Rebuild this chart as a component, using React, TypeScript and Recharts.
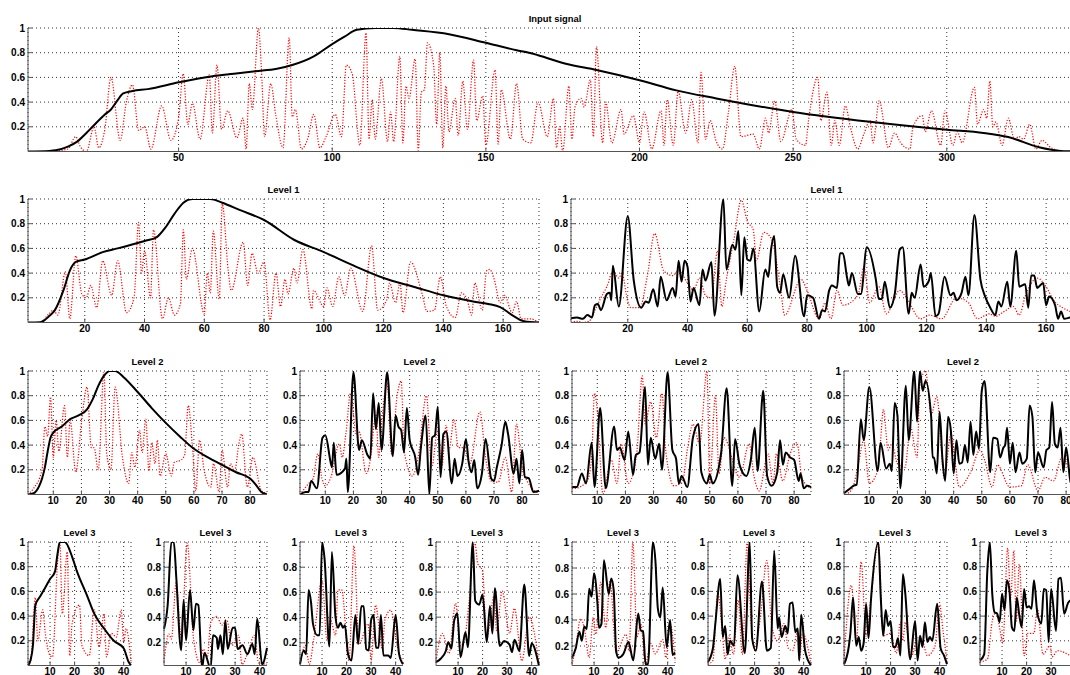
import { LineChart, Line, XAxis, YAxis, CartesianGrid } from "recharts";

type Pt = [number, number];

// each series is [sample, value] at its corners
const inputBlack: Pt[] = [[1,0],[8,.005],[10,.01],[14,.04],[17,.08],[20,.15],[22,.2],[26,.3],[28,.34],[30,.41],[32,.47],[35,.49],[40,.505],[50,.56],[61,.61],[68,.63],[75,.65],[82,.67],[87,.7],[94,.77],[100,.87],[104,.93],[108,.985],[114,1],[120,1],[126,.985],[138,.95],[150,.88],[160,.82],[164,.8],[167,.78],[176,.71],[186,.66],[200,.577],[212,.495],[225,.43],[250,.32],[275,.24],[300,.176],[312,.15],[320,.117],[330,.035],[338,.003],[344,0]];
const inputRed: Pt[] = [[1,0],[8,0],[14,.02],[16.5,.12],[18,.04],[20,0],[22.5,.2],[24,.03],[26,.18],[28,.6],[31,.09],[33,.4],[35,.54],[37,.17],[39,.2],[41,.02],[44.5,.37],[47.5,.09],[50,.27],[51.5,.63],[53,.22],[54.5,.39],[57,.1],[60,.62],[61,.15],[62.5,.7],[64,.18],[66,.33],[69,.11],[71,.27],[72,.02],[73,.55],[74,.34],[76,1],[77,.65],[78,.12],[80,.55],[81.6,.3],[84,.03],[86,.92],[87,.28],[88,.34],[90,.02],[92,.1],[94,.3],[96,.03],[98,.12],[101,.3],[103,.12],[104.6,.7],[106.5,.63],[109,.05],[111,.96],[112,.1],[113,.42],[114,.1],[116,.59],[118,.08],[119,.32],[120,.08],[122,.77],[123,.07],[124,.53],[125,.43],[127,.75],[128,.01],[129,.48],[130,.5],[131,.88],[133,.7],[134,.22],[135,.8],[136,.03],[137,.53],[138,.16],[140,.43],[141,.13],[142.5,.57],[144,.18],[146,.74],[147,.25],[149,.45],[150,.05],[153,.66],[154,.06],[155,.5],[158,.1],[160,.55],[162,.1],[164.6,.07],[167,.4],[170,.12],[172,.43],[173,.03],[174,.2],[175,0],[177,.53],[178,.1],[179,.36],[181,.43],[182,.36],[184,.58],[185,.12],[186,.85],[188,.07],[189,.4],[191,.07],[194,.34],[195,.14],[198,.29],[200,.07],[201.5,.32],[204,.02],[207,.33],[208,.05],[209,.42],[211,.05],[212.6,.49],[215,.15],[217,.42],[219,.07],[220,.64],[221.5,.1],[223,.25],[225,.08],[227,.02],[229,.33],[231,.69],[233,.12],[237,.14],[239,.02],[241,.27],[242,.15],[244,.41],[246,.08],[249.6,.34],[251,.1],[254,.05],[255,.25],[258,.6],[259,.25],[261,.48],[262.4,.05],[263.6,.25],[265,.05],[267,.37],[268.6,.2],[271,.02],[273,.14],[275,.25],[276,.07],[278,.41],[281,.03],[283,.15],[285,.07],[288,.02],[289,.2],[292,.29],[293,.16],[295,.33],[298,.05],[299.4,.33],[302,.05],[303.4,.16],[305,.07],[309,.52],[310,.22],[312,.34],[313,.27],[314,.57],[315,.2],[316,.24],[318,.05],[320,.27],[322,.1],[323.5,.12],[325,.1],[327,.22],[329,.02],[331,.09],[334,.03],[336,.01],[339,0],[344,0]];

const level1aBlack: Pt[] = [[1,0],[5,.002],[6,.01],[8,.05],[10,.1],[13,.27],[15,.42],[17,.49],[20,.51],[26,.57],[31,.6],[40,.66],[44,.69],[47,.77],[50,.88],[53,.97],[56,1],[62,1],[66,.97],[72,.91],[80,.83],[90,.67],[100,.57],[110,.46],[120,.36],[130,.29],[140,.22],[150,.17],[155,.15],[159,.125],[163,.06],[167,.01],[172,0]];
const level1aRed: Pt[] = [[1,0],[5,0],[8,.07],[9.5,.1],[11,.06],[13.5,.41],[15,.03],[17,.54],[19,.23],[20.5,.2],[22,.3],[24,.12],[26,.5],[29,.22],[31,.5],[34,.08],[36.5,.2],[38,.81],[39,.4],[40,.58],[42,.2],[43,.75],[46,.03],[48,.2],[50,.06],[52,.15],[53,.75],[54,.35],[56,.6],[60,.07],[61,.4],[62,.24],[63,.74],[65,.19],[66,.96],[68,.42],[69,.26],[73,.65],[74.5,.3],[76,.56],[78,.4],[80,.49],[82,.02],[84,.4],[85.5,.13],[87,.35],[88,.23],[90,.44],[91,.32],[93,.59],[96,.11],[96.5,.26],[100,.13],[101,.28],[103,.13],[105,.37],[107,.22],[109,.44],[113,.09],[116,.62],[118,.1],[121,.18],[122,.32],[124,.16],[125.5,.32],[126.5,.08],[129,.49],[133,.22],[134.5,.09],[137,.1],[139,.37],[141,.13],[144,.04],[146,.24],[148,.18],[149.5,.06],[150.5,.32],[153,.1],[154.5,.42],[155.5,.43],[157,.35],[159,.16],[160.5,.22],[163,.08],[164.5,.17],[166,.03],[169,.03],[172,0]];
const level1bBlack: Pt[] = [[1,.035],[3,.04],[5,.03],[6.5,.06],[8,.04],[9,.14],[10,.15],[11,.1],[13,.23],[14,.24],[14.5,.18],[15,.46],[17,.13],[20,.86],[22,.34],[24.5,.12],[26,.17],[27,.16],[28.5,.27],[30,.13],[31,.37],[33,.18],[35,.28],[36,.21],[37,.5],[38,.33],[39,.5],[40,.45],[41,.17],[42,.28],[44,.14],[45,.43],[46,.34],[48,.49],[49,.055],[52,1],[53,.43],[55,.63],[56,.59],[57,.74],[58,.22],[59,.69],[60,.51],[61,.5],[62,.6],[64,.09],[66,.43],[67,.37],[68,.6],[69,.7],[70,.29],[71,.24],[72,.39],[74,.2],[76,.54],[79,.05],[80,.22],[82,.2],[84,.03],[85,.1],[86,.09],[87.4,.26],[88.3,.3],[90,.28],[91,.56],[92,.56],[93.4,.36],[94,.3],[95,.4],[97,.23],[98,.23],[100,.61],[103,.35],[104,.19],[105,.19],[106,.33],[107.7,.12],[109.4,.24],[111,.59],[112,.61],[114,.07],[115,.24],[116,.2],[118,.47],[119,.29],[120.8,.34],[121.4,.4],[123,.05],[124,.07],[126,.37],[128,.22],[129,.24],[130,.18],[131.7,.24],[133,.37],[134,.22],[136,.87],[138,.35],[139.6,.21],[141.3,.12],[143,.06],[144,.17],[145,.13],[147,.33],[148,.13],[150,.58],[151,.29],[153,.31],[154,.12],[155,.38],[156,.38],[157,.28],[159,.32],[160,.14],[161,.21],[163,.14],[164,.03],[165,.09],[166,.03],[168,.04],[172,.05]];
const level1bRed: Pt[] = [[1,0],[3,.01],[5,0],[7,.01],[9,.1],[11,.2],[13,.29],[15,.41],[17,.36],[18,.4],[20,.17],[21,.12],[24,.12],[26.5,.37],[29,.72],[32,.42],[35,.38],[37,.42],[40,.32],[42,.26],[44,.36],[46,.22],[48,.2],[50,.58],[51.5,.13],[53,.35],[55.5,.67],[58,.99],[60,.82],[62,.75],[63,.5],[65.5,.73],[68,.68],[71,.3],[72.5,.06],[78,.35],[80,.26],[84,.03],[86,.16],[88,.03],[90,.26],[92,.14],[97,.22],[99,.45],[101,.16],[104,.29],[106.5,.07],[111,.26],[113,.21],[118,.03],[121,.06],[125,.03],[130,.2],[134,.16],[137,.03],[141,.07],[143,.05],[146,.09],[149,.13],[151,.06],[153,.21],[157,.36],[160,.29],[162.5,.18],[165.5,.12],[168,.09],[172,.05]];

const level2aBlack: Pt[] = [[1,0],[3,.01],[5,.07],[6,.13],[7,.22],[8,.35],[9,.46],[10,.5],[13,.55],[16,.61],[19,.64],[22,.69],[24,.77],[26,.88],[28,.96],[30,1],[32,1],[35,.95],[40,.83],[45,.7],[50,.58],[55,.47],[60,.37],[65,.3],[70,.24],[75,.18],[80,.13],[82,.08],[84,.02],[86,0]];
const level2aRed: Pt[] = [[1,0],[3,.05],[6,.2],[7,.55],[8,.47],[9,.79],[10,.3],[11,.6],[12,.35],[14,.72],[15,.3],[16,.6],[18,.18],[20,.58],[22,.87],[23.5,.38],[24.5,.38],[26,.2],[28,.99],[29,.33],[30.5,.2],[32,.87],[34.6,.3],[36.8,.09],[37.9,.34],[39,.22],[40.7,.52],[41.6,.34],[42.9,.61],[44,.19],[45,.42],[46.2,.25],[47,.44],[48,.15],[50,.33],[52,.15],[53,.26],[55.5,.28],[56.7,.32],[58,.72],[59.5,.38],[60.7,.03],[62,.44],[63.7,.19],[66,.06],[67,.25],[69,.02],[70,.36],[72,.06],[73,.25],[74.5,.19],[76,.41],[77,.49],[79,.06],[81,.3],[84,.03],[86,.01]];
const level2bBlack: Pt[] = [[1,0],[3,.02],[4,.02],[5,.11],[7,.05],[9,.46],[10,.48],[12,.25],[12.4,.22],[13,.42],[14,.16],[17,.21],[17.5,.29],[18,.02],[20,.99],[22,.36],[23,.44],[25,.32],[26,.29],[27,.82],[28,.53],[29,.74],[30,.36],[32,.99],[34,.31],[35,.64],[36,.55],[37,.52],[38,.34],[39,.7],[40,.44],[42,.3],[43,.16],[44,.38],[45.7,.64],[47,0],[48,.46],[49,.48],[50,.71],[51,.14],[52,.49],[53,.51],[55,.09],[56,.29],[57,.15],[58.7,.25],[60,.45],[61,.26],[62,.18],[63,.28],[64,.05],[65.7,.17],[67,.45],[69,.13],[70,.11],[71,.22],[72.7,.4],[74,.59],[75,.49],[77,.17],[78,.29],[79,.09],[80,.36],[81,.14],[82.4,.13],[84,.02],[86,.03]];
const level2bRed: Pt[] = [[1,0],[2.7,.05],[4.5,.1],[5.7,.13],[7.3,.33],[8.8,.13],[10,.07],[12,.14],[15,.41],[16,.3],[17.3,.49],[19,.82],[21,.49],[22,.51],[24.6,.17],[26,.28],[28,.65],[29,.3],[30,.57],[32,.9],[33.5,.33],[35.6,.81],[37,.92],[38,.36],[41,.15],[43,.3],[46,.8],[47.8,.22],[50,.52],[51.4,.22],[53,.56],[54,.36],[55.8,.61],[57.3,.38],[59.3,.38],[61.4,.25],[65,.67],[67,.3],[69,.11],[71.5,.1],[74,.3],[76.3,.02],[78,.57],[80,.22],[82,.1],[86,.01]];
const level2cBlack: Pt[] = [[1,.06],[2.7,.06],[4.5,.17],[6,.09],[8,.42],[9,.06],[11,.7],[13,.05],[16,.55],[17,.36],[18,.38],[19.7,.28],[21,.51],[22.7,.16],[23.7,.32],[25,.34],[27,.87],[28,.24],[29,.46],[30.6,.29],[32,.41],[33,.2],[35,.99],[36.7,.36],[38,.29],[39,.09],[40,.15],[42,.06],[44,.46],[46,.57],[47,.18],[49,.09],[50,.16],[51,.09],[54,.33],[56,.86],[58,.07],[59,.45],[60.6,.24],[63,.15],[64.6,.28],[66,.54],[67,.19],[69,.84],[70.4,.15],[72,.07],[74,.18],[75,.44],[76,.24],[77,.34],[78.6,.3],[80,.28],[81.6,.11],[82.3,.17],[83.4,.05],[84.6,.07],[86,.06]];
const level2cRed: Pt[] = [[1,.05],[2,.05],[6.4,.11],[8,.3],[9,.82],[10,.68],[12,.005],[15,.28],[17,.09],[18.5,.41],[21,.09],[24,.33],[26,.96],[27,.57],[29,.75],[31,.46],[33,.82],[34.3,.36],[37.3,.07],[40.3,.11],[42,.36],[44,.57],[46.4,.41],[49,1],[50,.09],[52,.8],[53.3,.17],[55,.46],[60.6,.14],[64,.41],[65.8,.14],[67.6,.03],[70.7,.33],[72.5,.09],[73.7,.33],[76,.11],[78.6,.33],[81,.42],[82.8,.13],[86,.05]];
const level2dBlack: Pt[] = [[1,.01],[2.7,.04],[4.3,.07],[5.5,.08],[7,.61],[8,.44],[10,.87],[13,.19],[14,.42],[16,.21],[17.3,.25],[18,.19],[19,.74],[20,.64],[21,.05],[23,.88],[24,.44],[26,1],[27,.59],[28,1],[29,.84],[30,.92],[32,.63],[32.5,.3],[33,.3],[34,.17],[35,.67],[36,.29],[37,.11],[38,.63],[39,.52],[40,.17],[41,.44],[42,.25],[43,.26],[44,.4],[45,.26],[46,.59],[47,.32],[48,.51],[49,.37],[50,.84],[51,.92],[53,.18],[54,.46],[55.5,.45],[56.5,.3],[57.7,.38],[58.3,.4],[59,.54],[60,.25],[61,.42],[62,.18],[63.4,.34],[64.4,.25],[66,.29],[67,.72],[68,.63],[69,.18],[70,.34],[72,.22],[73,.36],[74,.38],[75,.75],[76,.41],[77,.38],[78,.54],[79,.18],[80,.38],[81.6,.1],[84,.05]];
const level2dRed: Pt[] = [[1.5,0],[4,.05],[6.4,.28],[8,.44],[10,.09],[12.6,.17],[14,.44],[15,.69],[16.7,.36],[18,.41],[20,.25],[22.7,.22],[24.6,.55],[27,.3],[28,.9],[30,1],[32,.65],[34,.79],[36.7,.13],[39,.49],[42,.06],[46,.18],[49.4,.36],[51,.28],[53.7,.06],[55.5,.24],[60,.06],[64,.07],[66.4,.24],[70,.03],[72.5,.14],[75.5,.11],[78.5,.3],[82,.14]];

const level3aBlack: Pt[] = [[1,0],[2,.04],[3,.16],[4,.49],[6,.56],[8,.63],[10,.7],[12,.76],[13,.9],[14,1],[16,1],[19,.88],[21,.76],[25,.57],[28,.42],[32,.3],[36,.2],[40,.14],[42,.03],[43,0]];
const level3aRed: Pt[] = [[1,.03],[2,.04],[4,.55],[5,.2],[7,.45],[8,.27],[10,.08],[11,.07],[13,.82],[14,1],[15,.42],[17,.92],[18,.08],[19,.34],[22,.49],[23,.16],[26,.08],[28,.45],[30,.15],[32,.42],[33,.07],[35,.26],[37,.23],[39,.45],[40,.19],[41,.3],[43,.03]];
const level3bBlack: Pt[] = [[1,.31],[2.5,.5],[4,1],[5,1],[6,.72],[8,.14],[9,.54],[10,.22],[11.6,.62],[13,.3],[14,.51],[15,.5],[16.5,0],[17.5,.12],[20,0],[21,.26],[22.5,.24],[23,.15],[24,.26],[25,.11],[26,.38],[27,.15],[29,.32],[30,.32],[31,.15],[33,.18],[35,.11],[37,.19],[38,.11],[39,.39],[41,.03],[43,.16]];
const level3bRed: Pt[] = [[1,.05],[3,.27],[4,.23],[6,.68],[8,.24],[10.5,.99],[13,.24],[15.7,.04],[17,.15],[18.7,.09],[20,.36],[22.5,.41],[24.6,.34],[26.6,.38],[28.7,.18],[31.4,.26],[32.8,.03],[35.5,.14],[37.8,.26],[39.6,.04],[43,.03]];
const level3cBlack: Pt[] = [[1,.03],[2.5,.14],[3.5,.11],[4.5,.62],[5.5,.52],[6.3,.35],[8,.26],[9,.26],[10,1],[11,.87],[13,.17],[14,.92],[15.5,.4],[16.5,.32],[17.5,.36],[18.5,.32],[19.3,.34],[20.6,.11],[22,.06],[23.6,.42],[24.7,.19],[26,.49],[27,.49],[28,.15],[29,.14],[30,.38],[31,.42],[32,.16],[33,.16],[34,.42],[35,.1],[37,.1],[38,.08],[40,.42],[41.4,.11],[43,.03]];
const level3cRed: Pt[] = [[1,.03],[3.2,.18],[4.8,.03],[6.6,.23],[10,.7],[12,.22],[13.4,.38],[15.5,.26],[16.5,.62],[18,.62],[21,.06],[23,.97],[25,.19],[28.8,.35],[30,.06],[31.8,.5],[34.6,.15],[35.6,.38],[38,.46],[40.7,.17],[43,.03]];
const level3dBlack: Pt[] = [[1,.04],[3,.07],[5,.13],[6,.2],[7.3,.15],[8.4,.37],[9.7,.43],[11,.08],[13,.28],[14,.16],[16,1],[17,.53],[18.6,.5],[20,.58],[21.7,.2],[23,.49],[24,.27],[25,.63],[27,.17],[28.8,.21],[31,.18],[32,.12],[33,.22],[35,.13],[37,.66],[39,.09],[40,.19],[43,.01]];
const level3dRed: Pt[] = [[1,.05],[3.6,.27],[6.3,.11],[9,.51],[11,.17],[13,.27],[14.5,.53],[16.8,1],[18,.83],[20,.77],[21.6,.23],[24.7,.57],[25.7,.29],[28,.61],[31,.27],[33,.47],[36,.05],[39,.4],[43,.03]];
const level3eBlack: Pt[] = [[1,.11],[2.5,.18],[4,.31],[5,.24],[6,.35],[7,.33],[8,.64],[9,.58],[10,.76],[11.4,.52],[12,.34],[13,.37],[14,.86],[16,.6],[17,.72],[18,.63],[19,.16],[20,.11],[22,.14],[24,.23],[26,.09],[28,.45],[29,.32],[30,.31],[31,.06],[32,.06],[34,1],[35,.86],[36,.49],[37,.42],[38,.65],[39.6,.19],[41,.4],[42,.13],[43,.15]];
const level3eRed: Pt[] = [[1,.06],[2.5,.19],[4.5,.41],[6,.34],[8,.11],[9.7,.42],[10.7,.29],[12.7,.69],[14.8,.34],[16.5,.7],[19,.15],[23,.29],[24.3,.16],[25.8,1],[27.5,.27],[29,.37],[31,.06],[33,.22],[35,.14],[38,.25],[39.3,.11],[41,.37],[43,.09]];
const level3fBlack: Pt[] = [[1,.03],[3,.14],[4,.34],[6,.7],[7,.23],[8,.32],[9,.09],[10,.2],[11.6,.16],[13,.73],[16,.1],[18,1],[19,.22],[20.5,.12],[23,.68],[25,.12],[26.6,.14],[28,.93],[29.4,.3],[30,.39],[31,.23],[32.5,.32],[33.5,.26],[34.4,.5],[35.5,.51],[36.6,.27],[37.6,.3],[38.2,.04],[39,.41],[40.6,.12],[43,0]];
const level3fRed: Pt[] = [[1,.01],[3,.04],[5,.59],[7,.23],[8,.05],[9.6,.24],[11.4,.09],[13.3,.53],[15,.09],[17,1],[18.5,.36],[20,.15],[22.3,.38],[25,.85],[27,.32],[29.4,.2],[32,.34],[33.7,.14],[35.5,.12],[37.6,.28],[38.2,.04],[39.6,.26],[43,.01]];
const level3gBlack: Pt[] = [[1,.01],[3,.16],[3.6,.26],[4.7,.55],[6,.16],[7,.23],[8,.12],[9,.18],[10,.5],[11,.22],[12,.53],[15,1],[16,.55],[17,.24],[18,.45],[19,.32],[20,.36],[21,.15],[22,.15],[23,.22],[24,.08],[25,.74],[26,.58],[28,.05],[30,.36],[31,.04],[32,.24],[33,.15],[34,.35],[35,.19],[36,.23],[37,.2],[39,.5],[40.4,.14],[41.8,.08],[43,.01]];
const level3gRed: Pt[] = [[1,.03],[4,.65],[6,.18],[8,.84],[10,.24],[12.3,.61],[15,.99],[17,.24],[20,.26],[22.3,.1],[24,.35],[25,.2],[26,.35],[28.4,.07],[31,.23],[33,.2],[35,.08],[38,.15],[40,.49],[41.4,.28],[43,.03]];
const level3hBlack: Pt[] = [[1,.04],[2.7,.09],[4,.77],[5,1],[6,.58],[7,.43],[8,.42],[9,.35],[10,.58],[11,.45],[12,.69],[13,.61],[14,.31],[15,.28],[16,.55],[17,.41],[18,.31],[19,.62],[20,.47],[21,.48],[22,.46],[23,.69],[24.4,.42],[26,.34],[27,.62],[28,.61],[29,.19],[30,.62],[32,.28],[33,.7],[34,.71],[35.3,.42],[37,.51],[38.4,.53],[40,.52]];
const level3hRed: Pt[] = [[1,.03],[4,.05],[6,.36],[7.5,.43],[9.6,.24],[10.3,.18],[12.3,.95],[13.5,.55],[14.8,.93],[15.8,.36],[17,.82],[19,.08],[20.5,.26],[23,.26],[24.4,.46],[26.7,.09],[29.5,.16],[30.4,.07],[32.6,.12],[38.4,.07]];

const ticksY = [0.2, 0.4, 0.6, 0.8, 1];
const ticks344 = [50, 100, 150, 200, 250, 300];
const ticks172 = [20, 40, 60, 80, 100, 120, 140, 160];
const ticks86 = [10, 20, 30, 40, 50, 60, 70, 80];
const ticks43 = [10, 20, 30, 40];

const FONT = "'Liberation Sans', Arial, sans-serif";

function Panel({ title, left, top, width, last, ticks, black, red, yMin = 0 }: {
  title: string; left: number; top: number; width: number; last: number;
  ticks: number[]; black: Pt[]; red: Pt[]; yMin?: number;
}) {
  const height = 123.5;
  const blackData = black.map(([x, y]) => ({ x, y }));
  const redData = red.map(([x, y]) => ({ x, y }));
  return (
    <div style={{ position: "absolute", left: left - 28, top: top - 22 }}>
      <div style={{ position: "absolute", left: 28, width, top: 7, textAlign: "center", font: `bold 9.4px ${FONT}`, color: "#000" }}>
        {title}
      </div>
      <LineChart width={width + 30} height={height + 42} margin={{ top: 22, right: 2, bottom: 0, left: 0 }}>
        <CartesianGrid stroke="#333" strokeDasharray="1 3" />
        <XAxis
          dataKey="x" type="number" domain={[1, last]} ticks={ticks} height={20} interval={0}
          tickSize={-4} tickMargin={6} stroke="#555"
          tick={{ fill: "#000", fontSize: 10, fontWeight: "bold", fontFamily: FONT }}
        />
        <XAxis xAxisId="top" orientation="top" type="number" domain={[1, last]} ticks={ticks} height={0}
          tickSize={-4} tickFormatter={() => ""} stroke="#555" />
        <YAxis
          type="number" domain={[yMin, 1]} ticks={ticksY} width={28} interval={0}
          tickSize={-4} tickMargin={7} stroke="#555" allowDataOverflow
          tick={{ fill: "#000", fontSize: 10, fontWeight: "bold", fontFamily: FONT }}
        />
        <YAxis yAxisId="right" orientation="right" type="number" domain={[yMin, 1]} ticks={ticksY} width={0}
          tickSize={-4} tickFormatter={() => ""} stroke="#555" />
        <Line data={redData} dataKey="y" type="monotone" stroke="#f00" strokeWidth={1.2} strokeDasharray="1.2 1.6" dot={false} isAnimationActive={false} />
        <Line data={blackData} dataKey="y" type="monotone" stroke="#000" strokeWidth={2} dot={false} isAnimationActive={false} />
      </LineChart>
    </div>
  );
}

const row2 = { top: 199, width: 511, last: 172, ticks: ticks172 };
const row3 = { top: 370.7, width: 239, last: 86, ticks: ticks86 };
const row4 = { top: 541.7, width: 103, last: 43, ticks: ticks43 };

export default function App() {
  return (
    <div style={{ position: "fixed", left: 0, top: 0, width: 1070, height: 675, overflow: "hidden", background: "#fff" }}>
      <Panel title="Input signal" left={28} top={28} width={1054} last={344} ticks={ticks344} black={inputBlack} red={inputRed} />
      <Panel title="Level 1" left={28} {...row2} black={level1aBlack} red={level1aRed} />
      <Panel title="Level 1" left={571} {...row2} black={level1bBlack} red={level1bRed} />
      <Panel title="Level 2" left={28} {...row3} black={level2aBlack} red={level2aRed} />
      <Panel title="Level 2" left={300} {...row3} black={level2bBlack} red={level2bRed} />
      <Panel title="Level 2" left={571.5} {...row3} black={level2cBlack} red={level2cRed} />
      <Panel title="Level 2" left={843.5} {...row3} black={level2dBlack} red={level2dRed} />
      <Panel title="Level 3" left={28} {...row4} black={level3aBlack} red={level3aRed} />
      <Panel title="Level 3" left={164} {...row4} black={level3bBlack} red={level3bRed} yMin={0.02} />
      <Panel title="Level 3" left={299.5} {...row4} black={level3cBlack} red={level3cRed} yMin={0.02} />
      <Panel title="Level 3" left={435.5} {...row4} black={level3dBlack} red={level3dRed} yMin={0.014} />
      <Panel title="Level 3" left={571.5} {...row4} black={level3eBlack} red={level3eRed} yMin={0.05} />
      <Panel title="Level 3" left={707.5} {...row4} black={level3fBlack} red={level3fRed} />
      <Panel title="Level 3" left={843.5} {...row4} black={level3gBlack} red={level3gRed} />
      <Panel title="Level 3" left={979.5} {...row4} black={level3hBlack} red={level3hRed} />
    </div>
  );
}
